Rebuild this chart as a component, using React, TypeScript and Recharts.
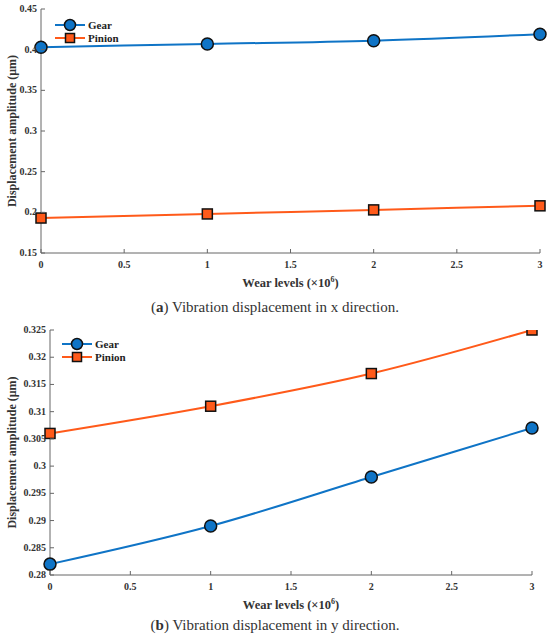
import { LineChart, Line, XAxis, YAxis, Label } from "recharts";

// wear levels (x10^6)
const wearLevels = [0, 1, 2, 3];
const xTicks = [0, 0.5, 1, 1.5, 2, 2.5, 3];

// (a) x direction
const gearX = [0.403, 0.407, 0.411, 0.419];
const pinionX = [0.193, 0.198, 0.203, 0.208];
const yTicksA = [0.15, 0.2, 0.25, 0.3, 0.35, 0.4, 0.45];

// (b) y direction
const gearY = [0.282, 0.289, 0.298, 0.307];
const pinionY = [0.306, 0.311, 0.317, 0.325];
const yTicksB = [0.28, 0.285, 0.29, 0.295, 0.3, 0.305, 0.31, 0.315, 0.32, 0.325];

const GEAR = "#0f74c6";
const PINION = "#ff5a1a";
const AXIS = "#666";
const FONT = "'Liberation Serif', 'Times New Roman', serif";
const txt = { fontFamily: FONT, fontWeight: "bold" as const };

const dataA = wearLevels.map((w, i) => ({ w, gear: gearX[i], pinion: pinionX[i] }));
const dataB = wearLevels.map((w, i) => ({ w, gear: gearY[i], pinion: pinionY[i] }));

function XTick({ x, y, payload }: any) {
  return (
    <g>
      <line x1={x} y1={y} x2={x} y2={y - 4} stroke={AXIS} />
      <text x={x} y={y + 15} textAnchor="middle" style={{ ...txt, fontSize: 10 }} fill="#333">
        {payload.value}
      </text>
    </g>
  );
}

function YTick({ x, y, payload }: any) {
  return (
    <g>
      <line x1={x} y1={y} x2={x + 4} y2={y} stroke={AXIS} />
      <text x={x - 4} y={y + 3} textAnchor="end" style={{ ...txt, fontSize: 10 }} fill="#333">
        {payload.value}
      </text>
    </g>
  );
}

function CircleDot({ cx, cy }: any) {
  return <circle cx={cx} cy={cy} r={6} fill={GEAR} stroke="#111" strokeWidth={1.5} />;
}

function SquareDot({ cx, cy }: any) {
  return <rect x={cx - 5} y={cy - 5} width={10} height={10} fill={PINION} stroke="#111" strokeWidth={1.5} />;
}

function LegendBox({ left, top }: { left: number; top: number }) {
  return (
    <g transform={`translate(${left} ${top})`}>
      <line x1={0} y1={7} x2={30} y2={7} stroke={GEAR} strokeWidth={2} />
      <circle cx={15} cy={7} r={5.5} fill={GEAR} stroke="#111" strokeWidth={1.5} />
      <text x={33} y={11} style={{ ...txt, fontSize: 11 }} fill="#222">Gear</text>
      <line x1={0} y1={20} x2={30} y2={20} stroke={PINION} strokeWidth={2} />
      <rect x={10.5} y={15.5} width={9} height={9} fill={PINION} stroke="#111" strokeWidth={1.5} />
      <text x={33} y={24} style={{ ...txt, fontSize: 11 }} fill="#222">Pinion</text>
    </g>
  );
}

function XLabel({ viewBox }: any) {
  const cx = viewBox.x + viewBox.width / 2;
  const y = viewBox.y + 34;
  return (
    <text x={cx} y={y} textAnchor="middle" style={{ ...txt, fontSize: 12.5 }} fill="#333">
      Wear levels (×10
      <tspan dy={-5} style={{ fontSize: 8 }}>6</tspan>
      <tspan dy={5}>)</tspan>
    </text>
  );
}

function YLabel({ cy }: { cy: number }) {
  return (
    <text
      x={16}
      y={cy}
      transform={`rotate(-90 16 ${cy})`}
      textAnchor="middle"
      style={{ ...txt, fontSize: 12 }}
      fill="#333"
    >
      Displacement amplitude (μm)
    </text>
  );
}

function Panel({ data, yTicks, domain, plotLeft, plotRight, plotTop, plotBottom, legendPos }: any) {
  const H = 300;
  const cy = (plotTop + plotBottom) / 2;
  return (
    <LineChart
      width={550}
      height={H}
      data={data}
      margin={{ top: plotTop, right: 550 - plotRight, left: 0, bottom: H - plotBottom - 30 }}
    >
      <XAxis
        dataKey="w"
        type="number"
        domain={[0, 3]}
        ticks={xTicks}
        stroke={AXIS}
        tickSize={0}
        tickMargin={0}
        tick={<XTick />}
        interval={0}
        height={30}
      >
        <Label content={<XLabel />} />
      </XAxis>
      <YAxis
        type="number"
        domain={domain}
        ticks={yTicks}
        stroke={AXIS}
        tickSize={0}
        tickMargin={0}
        tick={<YTick />}
        interval={0}
        width={plotLeft}
        allowDataOverflow
      />
      <Line
        type="monotone"
        dataKey="gear"
        name="Gear"
        stroke={GEAR}
        strokeWidth={2}
        dot={<CircleDot />}
        activeDot={false}
        isAnimationActive={false}
      />
      <Line
        type="monotone"
        dataKey="pinion"
        name="Pinion"
        stroke={PINION}
        strokeWidth={2}
        dot={<SquareDot />}
        activeDot={false}
        isAnimationActive={false}
      />
      <YLabel cy={cy} />
      <LegendBox left={legendPos.left} top={legendPos.top} />
    </LineChart>
  );
}

const captionStyle: any = {
  position: "absolute",
  left: 0,
  width: 550,
  textAlign: "center",
  fontFamily: FONT,
  fontSize: 15,
  color: "#333",
};

export default function App() {
  return (
    <div style={{ position: "absolute", left: 0, top: 0, width: 550, height: 638, background: "#fff" }}>
      <div style={{ position: "absolute", left: 0, top: 0 }}>
        <Panel
          data={dataA}
          yTicks={yTicksA}
          domain={[0.15, 0.45]}
          plotLeft={41}
          plotRight={540}
          plotTop={9}
          plotBottom={253}
          legendPos={{ left: 55, top: 18 }}
        />
      </div>
      <div style={{ ...captionStyle, top: 299 }}>
        (<b>a</b>) Vibration displacement in x direction.
      </div>
      <div style={{ position: "absolute", left: 0, top: 320 }}>
        <Panel
          data={dataB}
          yTicks={yTicksB}
          domain={[0.28, 0.325]}
          plotLeft={50}
          plotRight={532}
          plotTop={10}
          plotBottom={255}
          legendPos={{ left: 62, top: 17 }}
        />
      </div>
      <div style={{ ...captionStyle, top: 617 }}>
        (<b>b</b>) Vibration displacement in y direction.
      </div>
    </div>
  );
}
